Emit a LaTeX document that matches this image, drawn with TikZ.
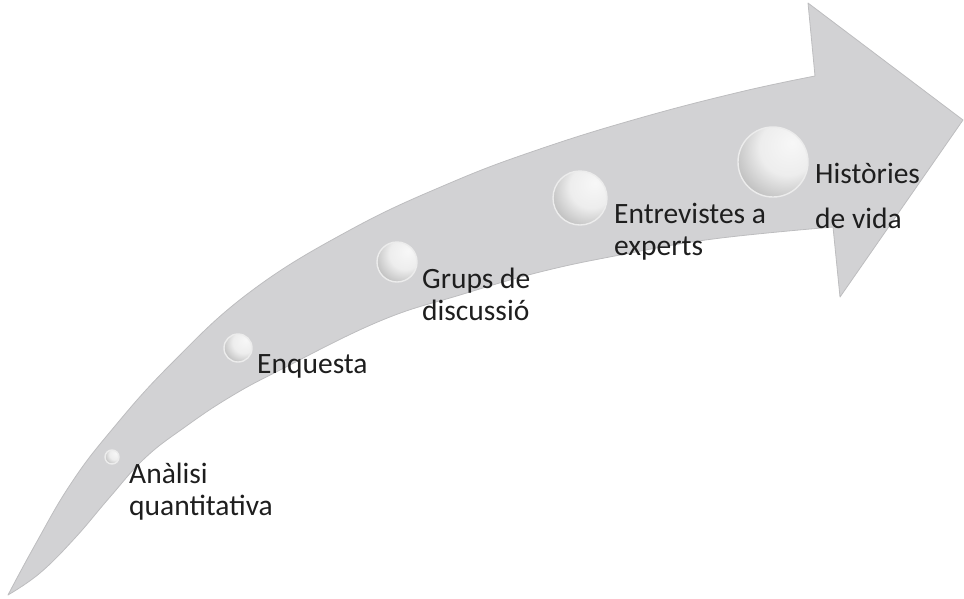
\documentclass[tikz,border=0pt]{standalone}
\usepackage{fontspec}
\setmainfont{Carlito}
\definecolor{bandgray}{HTML}{D2D2D4}
\definecolor{bandedge}{HTML}{BDBDBF}
\definecolor{txt}{HTML}{1E1E1E}
\pgfdeclareradialshading{lens}{\pgfpoint{14bp}{14bp}}{%
  color(0bp)=(white!94!gray); color(20bp)=(white!86!gray);
  color(40bp)=(gray!58); color(60bp)=(gray!62); color(80bp)=(gray!62)}
\begin{document}
\begin{tikzpicture}[x=1pt,y=-1pt,
  dot/.style={circle,inner sep=0pt,draw=white!85!gray,line width=1.4pt,
    shading=lens},
  lbl/.style={anchor=base west,inner sep=0pt,text=txt,
    font=\fontsize{29.5}{32}\selectfont}]
\useasboundingbox (0,0) rectangle (964,598);
% arrow body
\fill[bandgray,draw=bandedge,line width=0.8pt,line join=round]
  plot[smooth,tension=0.7] coordinates {(8,595) (35,545) (70,485) (110,432) (170,365) (250,292) (350,230) (450,183) (540,149) (640,118) (740,92) (815,76)}
  -- (808,3) -- (963,120) -- (840,297) -- (833,227)
  -- plot[smooth,tension=0.7] coordinates {(833,227) (713,239) (620,255) (540,272) (460,295) (380,321) (280,370) (230,397) (185,427) (145,458) (110,497) (75,538) (40,573) (8,595)}
  -- cycle;
% circles
\node[dot,minimum size=14pt] (c1) at (112,457) {};
\node[dot,minimum size=28pt] (c2) at (238,348) {};
\node[dot,minimum size=40pt] (c3) at (397,262) {};
\node[dot,minimum size=54pt] (c4) at (580,198) {};
\node[dot,minimum size=70pt] (c5) at (773,162) {};
% labels
\node[lbl] (t1) at (129,483) {\begin{tabular}[t]{@{}l@{}}Anàlisi\\quantitativa\end{tabular}};
\node[lbl] (t2) at (257,373) {Enquesta};
\node[lbl] (t3) at (422,288) {\begin{tabular}[t]{@{}l@{}}Grups de\\discussió\end{tabular}};
\node[lbl] (t4) at (614,223) {\begin{tabular}[t]{@{}l@{}}Entrevistes a\\experts\end{tabular}};
\node[lbl] (t5) at (815,183) {\begin{tabular}[t]{@{}l@{}}Històries\\[13pt]de vida\end{tabular}};
\end{tikzpicture}
\end{document}
